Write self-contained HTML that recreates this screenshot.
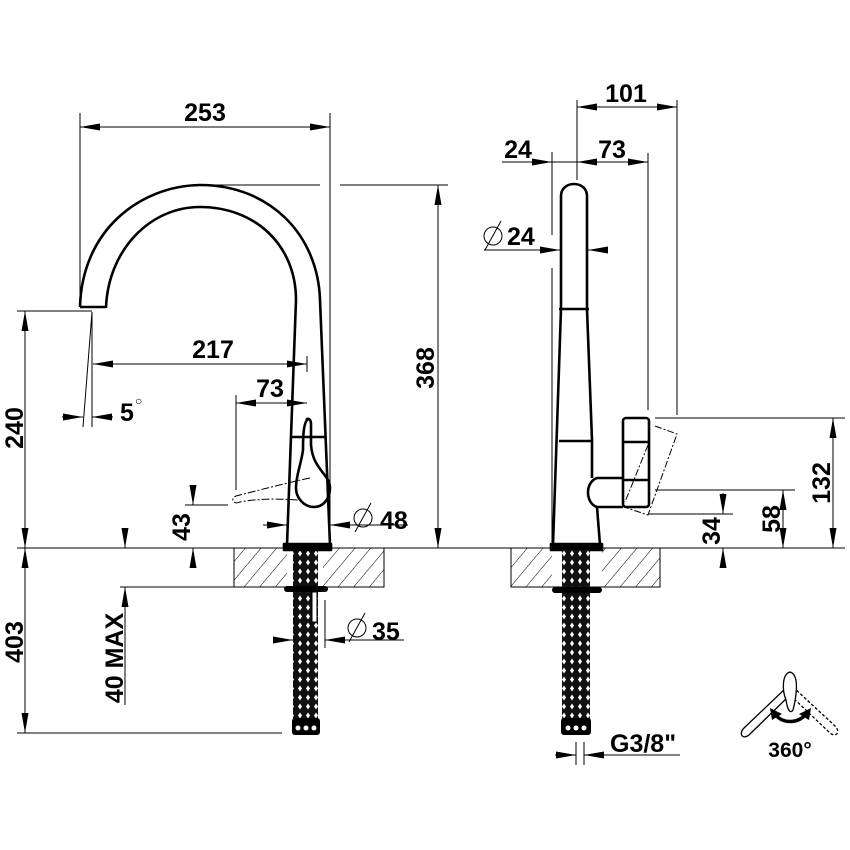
<!DOCTYPE html>
<html><head><meta charset="utf-8"><style>
html,body{margin:0;padding:0;background:#fff}
svg{display:block}
text{font-family:"Liberation Sans",Arial,sans-serif;font-weight:bold;fill:#000}
</style></head><body>
<svg width="850" height="850" viewBox="0 0 850 850" xmlns="http://www.w3.org/2000/svg">
<defs>
<pattern id="hatch" width="12" height="12" patternUnits="userSpaceOnUse" patternTransform="rotate(40)">
<line x1="0" y1="0" x2="0" y2="12" stroke="#000" stroke-width="1"/>
</pattern>
<pattern id="braid" width="8" height="9" patternUnits="userSpaceOnUse">
<rect width="8" height="9" fill="#111"/>
<path d="M4 1.5 L6 4.5 L4 7.5 L2 4.5Z" fill="#fff"/>
</pattern>
<marker id="a" viewBox="0 0 20 7" refX="20" refY="3.5" markerWidth="20" markerHeight="7" markerUnits="userSpaceOnUse" orient="auto-start-reverse" preserveAspectRatio="none">
<path d="M0 0 L20 3.5 L0 7Z" fill="#000"/>
</marker>
</defs>
<g stroke="#000" stroke-width="1" fill="none">
<line x1="17" y1="548" x2="845" y2="548"/>
<rect x="234" y="548" width="150" height="39" fill="url(#hatch)"/>
<rect x="511" y="548" width="149" height="39" fill="url(#hatch)"/>
<rect x="287" y="549" width="36" height="37" fill="#fff" stroke="none"/>
<rect x="552" y="549" width="50" height="37" fill="#fff" stroke="none"/>
<line x1="120" y1="587" x2="234" y2="587"/>
<line x1="17" y1="733" x2="282" y2="733"/>

<line x1="80" y1="113" x2="80" y2="300"/>
<line x1="330" y1="113" x2="330" y2="545"/>
<line x1="80" y1="127" x2="330" y2="127" marker-start="url(#a)" marker-end="url(#a)"/>
<line x1="200" y1="185" x2="320" y2="185"/>
<line x1="340" y1="185" x2="448" y2="185"/>
<line x1="438" y1="185" x2="438" y2="548" marker-start="url(#a)" marker-end="url(#a)"/>
<line x1="17" y1="311" x2="92" y2="311"/>
<line x1="25" y1="311" x2="25" y2="548" marker-start="url(#a)" marker-end="url(#a)"/>
<line x1="25" y1="548" x2="25" y2="733" marker-start="url(#a)" marker-end="url(#a)"/>
<line x1="125" y1="528" x2="125" y2="548" marker-end="url(#a)"/>
<line x1="125" y1="587" x2="125" y2="705" marker-start="url(#a)"/>
<line x1="93" y1="364" x2="307" y2="364" marker-start="url(#a)" marker-end="url(#a)"/>
<line x1="307" y1="356" x2="307" y2="372"/>
<line x1="236" y1="395" x2="236" y2="490"/>
<line x1="236" y1="403" x2="307" y2="403" marker-start="url(#a)" marker-end="url(#a)"/>
<line x1="92" y1="312" x2="92" y2="427"/>
<line x1="92" y1="312" x2="83" y2="427"/>
<line x1="62" y1="417" x2="83" y2="417" marker-end="url(#a)"/>
<line x1="113" y1="417" x2="92" y2="417" marker-end="url(#a)"/>
<line x1="185" y1="505" x2="228" y2="505"/>
<line x1="193" y1="485" x2="193" y2="505" marker-end="url(#a)"/>
<line x1="193" y1="548" x2="193" y2="568" marker-start="url(#a)"/>
<line x1="263" y1="525" x2="287" y2="525" marker-end="url(#a)"/>
<line x1="352" y1="525" x2="330" y2="525" marker-end="url(#a)"/>
<line x1="330" y1="525" x2="408" y2="525"/>
<circle cx="363" cy="518" r="9"/><line x1="355" y1="532" x2="371" y2="503"/>
<line x1="273" y1="640" x2="293" y2="640" marker-end="url(#a)"/>
<line x1="347" y1="640" x2="325" y2="640" marker-end="url(#a)"/>
<line x1="325" y1="640" x2="404" y2="640"/>
<line x1="325" y1="600" x2="325" y2="648"/>
<circle cx="357" cy="628" r="9"/><line x1="349" y1="642" x2="365" y2="613"/>
</g>

<g stroke="#000" stroke-width="2.6" fill="none" stroke-linejoin="round">
<path d="M80 307 C82 230 140 186 200 185 C270 185 318 235 320 300 L330 545"/>
<path d="M106 308 C108 250 150 207 200 207 C255 207 296 245 296 300 L287 545"/>
<line x1="80" y1="307" x2="106" y2="307"/>
<line x1="291" y1="437" x2="325" y2="437"/>
<rect x="284" y="544" width="47" height="6" fill="#000"/>
<path d="M307 420 C303 425 303 440 303 450 C301 465 296 475 296 488 C296 498 304 507 314 507 C323 507 330 499 330 488 C330 474 313 470 311 445 L311 424 C311 418 306 418 307 420Z"/>
</g>
<g stroke="#000" stroke-width="1" fill="none" stroke-dasharray="8,2,2,2">
<path d="M310 478 C290 482 260 490 236 496 C230 499 233 505 240 502 C260 498 285 499 298 500"/>
</g>
<rect x="293" y="551" width="25" height="168" fill="url(#braid)"/>
<rect x="284" y="586" width="44" height="6" rx="3" fill="#000"/>
<rect x="312" y="592" width="5" height="30" fill="#fff" stroke="#000"/>
<rect x="292" y="718" width="28" height="17" rx="3" fill="#000"/>
<circle cx="298" cy="728" r="2.5" fill="#fff"/><circle cx="306" cy="728" r="2.5" fill="#fff"/><circle cx="314" cy="728" r="2.5" fill="#fff"/>

<g stroke="#000" stroke-width="1" fill="none">
<line x1="577" y1="100" x2="577" y2="180"/>
<line x1="677" y1="100" x2="677" y2="415"/>
<line x1="577" y1="107" x2="677" y2="107" marker-start="url(#a)" marker-end="url(#a)"/>
<line x1="552" y1="152" x2="552" y2="235"/>
<line x1="552" y1="268" x2="552" y2="545"/>
<line x1="648" y1="153" x2="648" y2="410"/>
<line x1="502" y1="162" x2="552" y2="162" marker-end="url(#a)"/>
<line x1="552" y1="162" x2="577" y2="162"/>
<line x1="577" y1="162" x2="648" y2="162" marker-start="url(#a)" marker-end="url(#a)"/>
<line x1="484" y1="250" x2="560" y2="250" marker-end="url(#a)"/>
<line x1="608" y1="250" x2="588" y2="250" marker-end="url(#a)"/>
<circle cx="493" cy="236" r="9"/><line x1="485" y1="250" x2="501" y2="221"/>
<line x1="655" y1="418" x2="845" y2="418"/>
<line x1="655" y1="490" x2="795" y2="490"/>
<line x1="648" y1="514" x2="733" y2="514"/>
<line x1="833" y1="418" x2="833" y2="548" marker-start="url(#a)" marker-end="url(#a)"/>
<line x1="783" y1="490" x2="783" y2="548" marker-start="url(#a)" marker-end="url(#a)"/>
<line x1="723" y1="493" x2="723" y2="514" marker-end="url(#a)"/>
<line x1="723" y1="548" x2="723" y2="568" marker-start="url(#a)"/>
<line x1="555" y1="755" x2="576" y2="755" marker-end="url(#a)"/>
<line x1="606" y1="755" x2="584" y2="755" marker-end="url(#a)"/>
<line x1="584" y1="755" x2="680" y2="755"/>
<line x1="576" y1="742" x2="576" y2="765"/><line x1="584" y1="742" x2="584" y2="765"/>
</g>
<g stroke="#000" stroke-width="2.6" fill="none" stroke-linejoin="round">
<path d="M561 309 L561 196 C561 180 587 180 587 196 L587 309"/>
<line x1="559" y1="309" x2="589" y2="309"/>
<path d="M561 309 L553 545 M587 309 L592 440 L592 478 M600 545 L597 507"/>
<line x1="559" y1="441" x2="593" y2="441"/>
<rect x="551" y="544" width="51" height="6" fill="#000"/>
<path d="M623 478 L597 478 C585 482 585 503 597 507 L623 507"/>
<rect x="623" y="418" width="26" height="89" rx="3"/>
<line x1="623" y1="442" x2="649" y2="442"/>
<line x1="623" y1="480" x2="649" y2="480"/>
</g>
<g stroke="#000" stroke-width="1" fill="none" stroke-dasharray="7,2,2,2">
<path d="M655 426 L677 434 L648 515 L627 508"/>
<line x1="648" y1="445" x2="625" y2="502"/>
</g>
<rect x="562" y="550" width="28" height="169" fill="url(#braid)"/>
<rect x="552" y="587" width="50" height="6" rx="3" fill="#000"/>
<rect x="561" y="718" width="30" height="17" rx="3" fill="#000"/>
<circle cx="568" cy="728" r="2.5" fill="#fff"/><circle cx="576" cy="728" r="2.5" fill="#fff"/><circle cx="584" cy="728" r="2.5" fill="#fff"/>

<g stroke="#000" stroke-width="1.3" fill="#fff">
<path d="M786 688 L744 728 C738 734 743 740 749 735 L790 695Z"/>
<path d="M793 687 L835 726 C841 732 836 738 830 733 L790 695Z" stroke-dasharray="3,2"/>
<path d="M786 700 C782 690 782 674 790 672 C798 674 798 690 793 710 C791 713 788 713 786 700Z"/>
</g>
<path d="M775 714 C782 724 798 724 806 714" stroke="#000" stroke-width="3.5" fill="none"/>
<path d="M770 708 L782 714 L772 720Z M811 708 L799 714 L809 720Z" fill="#000"/>

<g font-size="25">
<text x="205" y="121" text-anchor="middle">253</text>
<text x="213" y="358" text-anchor="middle">217</text>
<text x="270" y="397" text-anchor="middle">73</text>
<text x="120" y="421">5</text>
<text x="135" y="405" font-size="12" font-weight="normal">○</text>
<text x="380" y="529">48</text>
<text x="372" y="640">35</text>
<text x="626" y="102" text-anchor="middle">101</text>
<text x="518" y="158" text-anchor="middle">24</text>
<text x="612" y="158" text-anchor="middle">73</text>
<text x="507" y="245">24</text>
<text x="610" y="752">G3/8"</text>
<text x="790" y="757" text-anchor="middle" font-size="21">360°</text>
<text transform="translate(434,368) rotate(-90)" text-anchor="middle">368</text>
<text transform="translate(23,428) rotate(-90)" text-anchor="middle">240</text>
<text transform="translate(23,642) rotate(-90)" text-anchor="middle">403</text>
<text transform="translate(123,658) rotate(-90)" text-anchor="middle">40 MAX</text>
<text transform="translate(190,527) rotate(-90)" text-anchor="middle">43</text>
<text transform="translate(720,531) rotate(-90)" text-anchor="middle">34</text>
<text transform="translate(780,519) rotate(-90)" text-anchor="middle">58</text>
<text transform="translate(830,483) rotate(-90)" text-anchor="middle">132</text>
</g>
</svg>
</body></html>
